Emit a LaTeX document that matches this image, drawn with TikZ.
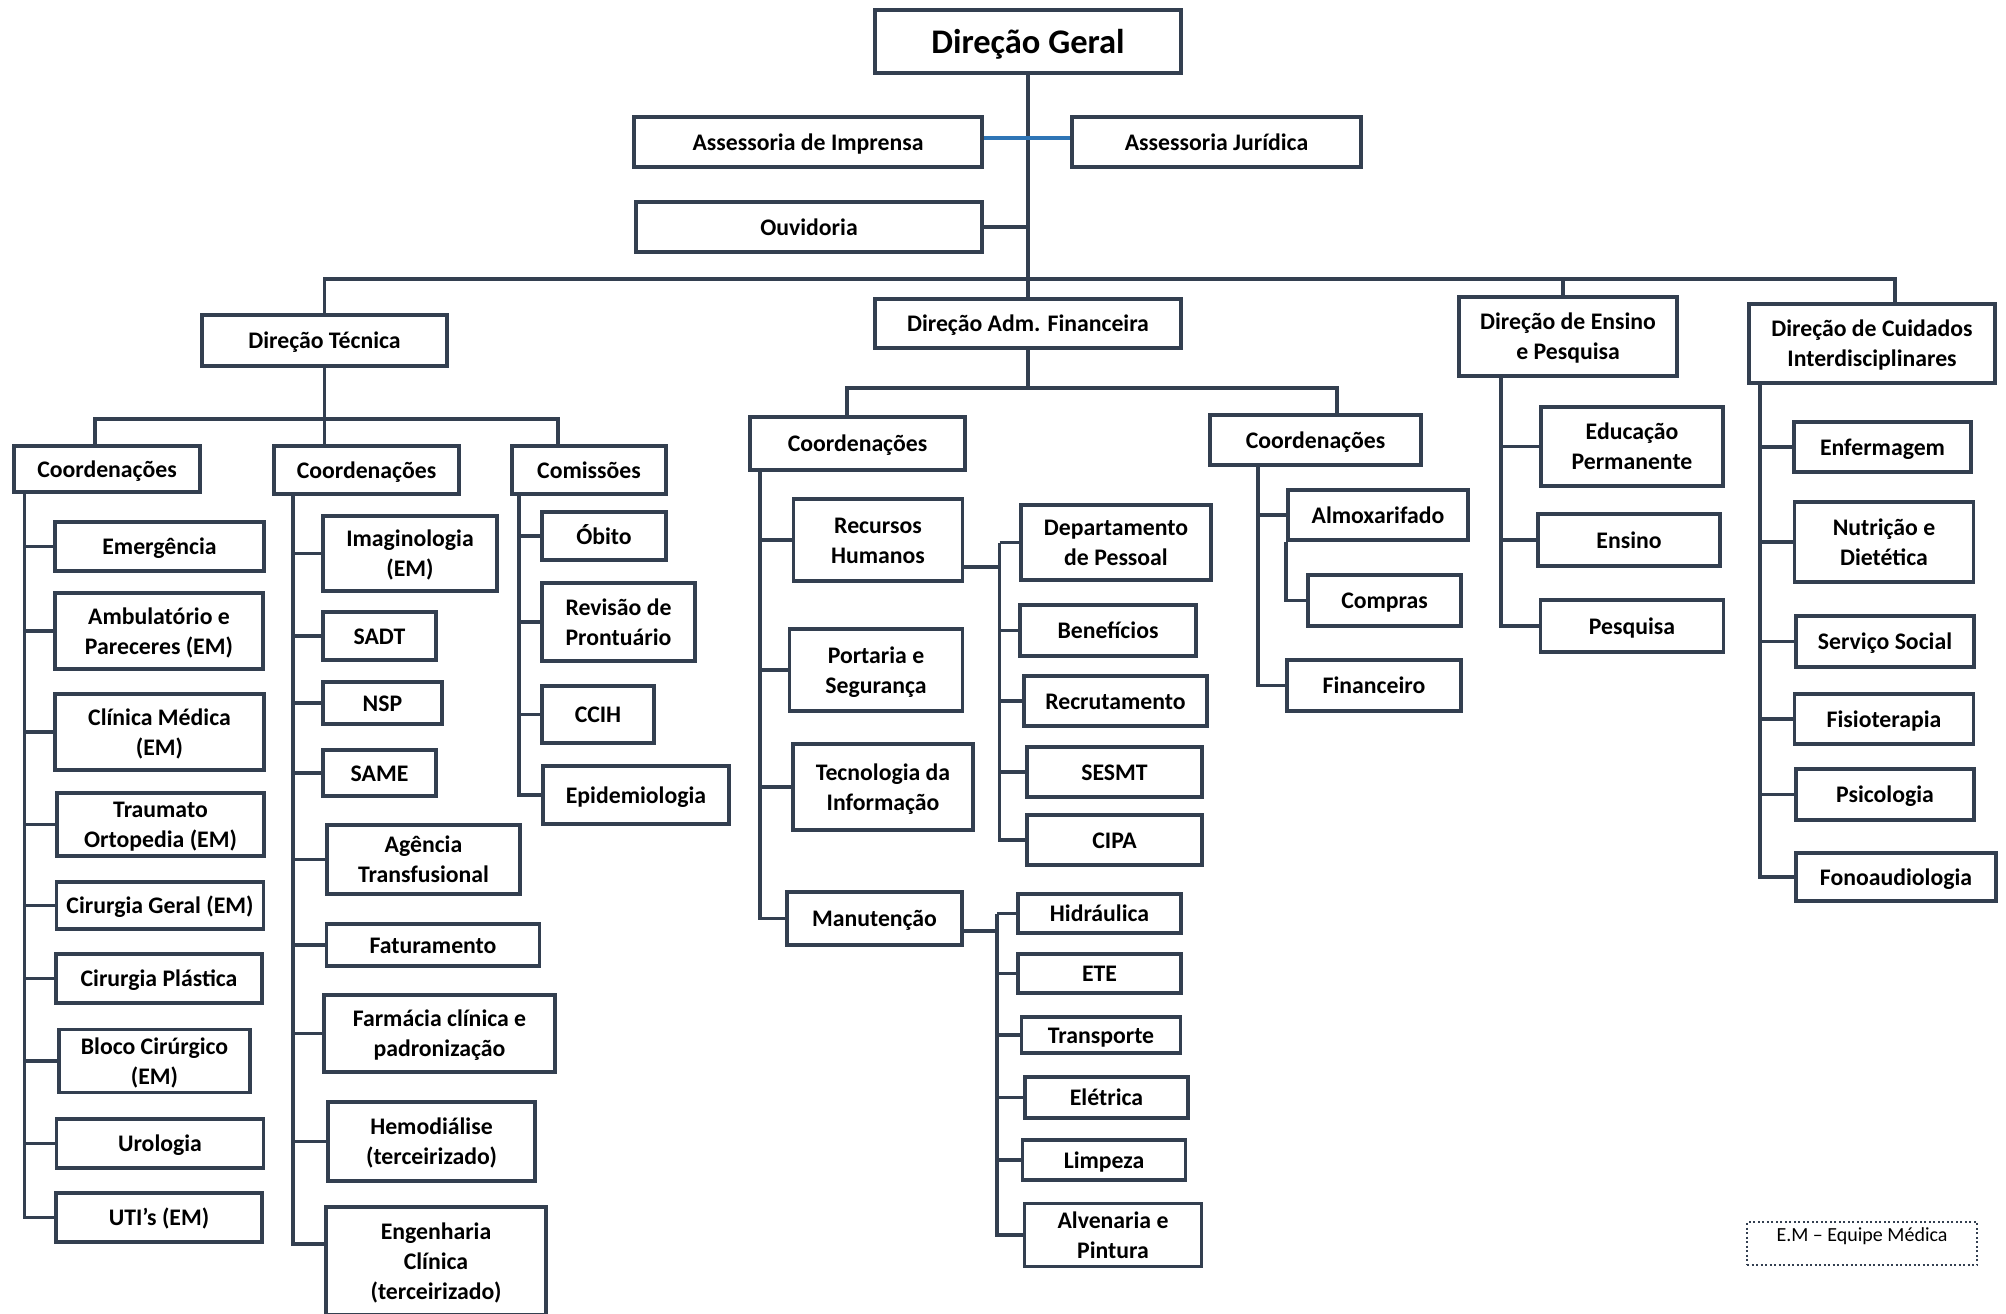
\documentclass[tikz,border=0pt]{standalone}
\usepackage{fontspec}
\setmainfont{Carlito}
\usetikzlibrary{calc}
\definecolor{ln}{HTML}{333F50}
\definecolor{bl}{HTML}{2E75B6}
\tikzset{
  box/.style={draw=ln, line width=1.5pt, rectangle, fill=white, inner sep=1pt, align=center,
    font=\bfseries\fontsize{9.5}{12}\selectfont, text=black},
  titlebox/.style={box, font=\bfseries\fontsize{13.8}{16}\selectfont},
  conn/.style={draw=ln, line width=1.5pt},
}
\newcommand\bx[7][box]{\node[#1, minimum width={(#5-4)*0.4pt}, minimum height={(#6-4)*0.4pt}] (#2) at (#3,#4) {\rule{0pt}{0.93em}#7\rule[-0.25em]{0pt}{0.25em}};}
\begin{document}
\begin{tikzpicture}[x=0.4pt,y=-0.4pt]
\useasboundingbox (0,0) rectangle (2006,1313);
% top
\bx[titlebox]{dg}{1028}{41.5}{310}{67}{Direção Geral}
\bx{ai}{808}{142}{352}{54}{Assessoria de Imprensa}
\bx{aj}{1216.5}{142}{293}{54}{Assessoria Jurídica}
\bx{ouv}{809}{227}{350}{54}{Ouvidoria}
\bx{dt}{324.5}{340.5}{249}{55}{Direção Técnica}
\bx{dadm}{1028}{323.5}{310}{53}{Direção Adm. Financeira}
\bx{den}{1568}{336.5}{222}{83}{Direção de Ensino\\e Pesquisa}
\bx{dcu}{1872}{343.5}{250}{83}{Direção de Cuidados\\Interdisciplinares}
% Direcao Tecnica
\bx{c1}{107}{469}{190}{50}{Coordenações}
\bx{c2}{366.5}{470}{189}{52}{Coordenações}
\bx{c3}{589}{470}{158}{52}{Comissões}
\bx{emerg}{159.5}{546.5}{213}{53}{Emergência}
\bx{amb}{159}{631}{212}{80}{Ambulatório e\\Pareceres (EM)}
\bx{clin}{159.5}{732}{213}{80}{Clínica Médica\\(EM)}
\bx{traum}{160.5}{824.5}{211}{65}{Traumato\\Ortopedia (EM)}
\bx{cirg}{160}{905.5}{211}{51}{Cirurgia Geral (EM)}
\bx{cirp}{159}{978.5}{210}{53}{Cirurgia Plástica}
\bx{bloco}{154.5}{1061}{195}{64}{Bloco Cirúrgico\\(EM)}
\bx{uro}{160}{1143.5}{211}{53}{Urologia}
\bx{uti}{159}{1217.5}{210}{53}{UTI’s (EM)}
\bx{imag}{410}{553.5}{178}{79}{Imaginologia\\(EM)}
\bx{sadt}{379.5}{636}{117}{52}{SADT}
\bx{nsp}{382.5}{703}{123}{46}{NSP}
\bx{same}{379.5}{773}{117}{50}{SAME}
\bx{agen}{423.5}{859.5}{197}{73}{Agência\\Transfusional}
\bx{fat}{433}{945}{217}{46}{Faturamento}
\bx{farm}{439.5}{1033.5}{235}{81}{Farmácia clínica e\\padronização}
\bx{hemo}{431.5}{1141.5}{211}{83}{Hemodiálise\\(terceirizado)}
\bx{eng}{436}{1261}{224}{112}{Engenharia\\Clínica\\(terceirizado)}
\bx{obito}{604}{536}{128}{52}{Óbito}
\bx{rev}{618.5}{622}{157}{82}{Revisão de\\Prontuário}
\bx{ccih}{598}{714.5}{116}{61}{CCIH}
\bx{epid}{636}{795}{190}{62}{Epidemiologia}
% Direcao Adm
\bx{ca1}{857.5}{443.5}{219}{57}{Coordenações}
\bx{ca2}{1315.5}{440}{215}{54}{Coordenações}
\bx{rh}{878}{540}{173}{86}{Recursos\\Humanos}
\bx{port}{876}{670}{177}{86}{Portaria e\\Segurança}
\bx{ti}{883}{787}{184}{90}{Tecnologia da\\Informação}
\bx{man}{874.5}{918.5}{179}{57}{Manutenção}
\bx{dp}{1116}{542.5}{194}{79}{Departamento\\de Pessoal}
\bx{ben}{1108}{630.5}{180}{55}{Benefícios}
\bx{rec}{1115.5}{701}{187}{54}{Recrutamento}
\bx{sesmt}{1114.5}{772}{179}{54}{SESMT}
\bx{cipa}{1114.5}{840}{179}{54}{CIPA}
\bx{hid}{1099.5}{913.5}{167}{43}{Hidráulica}
\bx{ete}{1099.5}{973.5}{167}{43}{ETE}
\bx{trans}{1101}{1035}{163}{40}{Transporte}
\bx{ele}{1106.5}{1097.5}{167}{45}{Elétrica}
\bx{limp}{1104}{1160}{167}{44}{Limpeza}
\bx{alv}{1113}{1235}{181}{66}{Alvenaria e\\Pintura}
\bx{almox}{1378}{515}{184}{54}{Almoxarifado}
\bx{compras}{1384.5}{600.5}{157}{55}{Compras}
\bx{fin}{1374}{685.5}{178}{55}{Financeiro}
% Ensino
\bx{edu}{1632}{446.5}{186}{83}{Educação\\Permanente}
\bx{ens}{1629}{540}{186}{56}{Ensino}
\bx{pesq}{1632}{626}{187}{56}{Pesquisa}
% Cuidados
\bx{enf}{1882.5}{447}{181}{54}{Enfermagem}
\bx{nut}{1884}{542}{183}{84}{Nutrição e\\Dietética}
\bx{ss}{1885}{641.5}{182}{55}{Serviço Social}
\bx{fis}{1884}{719}{183}{54}{Fisioterapia}
\bx{psi}{1885}{794.5}{182}{55}{Psicologia}
\bx{fono}{1896}{877}{204}{52}{Fonoaudiologia}
% note
\node[draw=ln, densely dotted, line width=0.8pt, minimum width={230*0.4pt}, minimum height={43*0.4pt}, inner sep=0pt] (note) at (1862,1243.5) {};
\node[font=\fontsize{8}{10}\selectfont, anchor=base, inner sep=0pt] (notet) at (1862,1241) {E.M – Equipe Médica};
% connectors top
\draw[conn] (dg.south) -- (dadm.north);
\draw[conn, draw=bl] ($(ai.east)+(0,-4)$) -- ($(aj.west)+(0,-4)$);
\draw[conn] (ouv.east) -- (ouv.east -| dg.south);
\coordinate (bus) at (1027,279);
\coordinate (dcuT) at ($(dcu.north)+(23,0)$);
\coordinate (denT) at ($(den.north)+(-5,0)$);
\draw[conn] (dt.north) |- (bus) -| (dcuT);
\draw[conn] (denT) -- (denT |- bus);
% DT
\coordinate (dtj) at (324.5,419);
\coordinate (c1t) at (95,419);
\coordinate (c3t) at (558,419);
\draw[conn] (dt.south) -- (dtj) -- (c2.north -| dtj);
\draw[conn] (c1.north -| c1t) -- (c1t) -- (c3t) -- (c3.north -| c3t);
\coordinate (t1) at (24.5,0);
\foreach \c in {emerg,amb,clin,traum,cirg,cirp,bloco,uro,uti}
  \draw[conn] (c1.south -| t1) |- (\c.west);
\coordinate (t2) at (293,0);
\foreach \c in {imag,sadt,nsp,same,agen,fat,farm,hemo}
  \draw[conn] (c2.south -| t2) |- (\c.west);
\coordinate (engc) at ($(eng.west)+(0,-17)$);
\draw[conn] (c2.south -| t2) |- (engc);
\coordinate (t3) at (519,0);
\foreach \c in {obito,rev,ccih,epid}
  \draw[conn] (c3.south -| t3) |- (\c.west);
% Adm
\coordinate (a1t) at (847,388);
\coordinate (a2t) at (1337,388);
\draw[conn] (dadm.south) -- (dadm.south |- a1t);
\draw[conn] (ca1.north -| a1t) -- (a1t) -- (a2t) -- (ca2.north -| a2t);
\coordinate (t4) at (760,0);
\foreach \c in {rh,port,ti,man}
  \draw[conn] (ca1.south -| t4) |- (\c.west);
\coordinate (t5) at (999.5,0);
\coordinate (rhc) at ($(rh.east)+(0,27)$);
\draw[conn] (rhc) -- (rhc -| t5);
\foreach \c in {dp,ben,rec,sesmt,cipa}
  \draw[conn] (dp.west -| t5) |- (\c.west);
\coordinate (t6) at (997,0);
\coordinate (manc) at ($(man.east)+(0,12.5)$);
\draw[conn] (manc) -- (manc -| t6);
\foreach \c in {hid,ete,trans,ele,limp,alv}
  \draw[conn] (hid.west -| t6) |- (\c.west);
\coordinate (t7) at (1258,0);
\foreach \c in {almox,fin}
  \draw[conn] (ca2.south -| t7) |- (\c.west);
\draw[conn] (almox.south west) |- (compras.west);
% Ensino
\coordinate (t8) at (1501,0);
\foreach \c in {edu,ens,pesq}
  \draw[conn] (den.south -| t8) |- (\c.west);
% Cuidados
\coordinate (t9) at (1760,0);
\foreach \c in {enf,nut,ss,fis,psi,fono}
  \draw[conn] (dcu.south -| t9) |- (\c.west);
\end{tikzpicture}
\end{document}
